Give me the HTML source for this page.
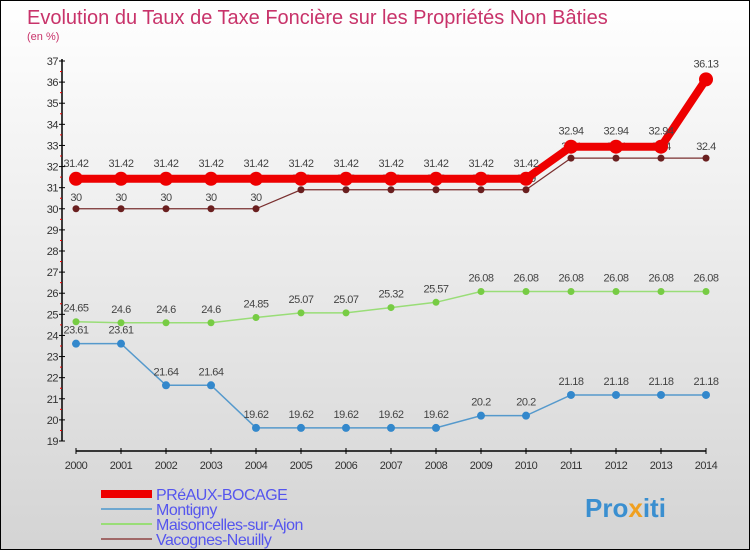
<!DOCTYPE html>
<html><head><meta charset="utf-8"><style>
html,body{margin:0;padding:0}
body{width:750px;height:550px;overflow:hidden;font-family:"Liberation Sans",sans-serif}
#wrap{position:relative;width:748px;height:548px;border:1px solid #000;background:linear-gradient(#ffffff,#d4d4d4)}
</style></head><body>
<div id="wrap">
<svg id="chart" width="748" height="548" xmlns="http://www.w3.org/2000/svg">
<text x="26" y="23" font-size="20" fill="#c8336a">Evolution du Taux de Taxe Foncière sur les Propriétés Non Bâties</text>
<text x="26" y="39" font-size="11" fill="#c8336a">(en %)</text>
<g id="axes"></g><g id="series"></g><g id="legend"></g>
<text x="584" y="516" font-size="26" font-weight="bold" fill="#3a8fd0">Pro<tspan fill="#f0a020">x</tspan>iti</text>
</svg>
</div>
<script>
const years=[2000,2001,2002,2003,2004,2005,2006,2007,2008,2009,2010,2011,2012,2013,2014];
const yTicks=[19,20,21,22,23,24,25,26,27,28,29,30,31,32,33,34,35,36,37];
const preaux=[31.42,31.42,31.42,31.42,31.42,31.42,31.42,31.42,31.42,31.42,31.42,32.94,32.94,32.94,36.13];
const montigny=[23.61,23.61,21.64,21.64,19.62,19.62,19.62,19.62,19.62,20.2,20.2,21.18,21.18,21.18,21.18];
const maison=[24.65,24.6,24.6,24.6,24.85,25.07,25.07,25.32,25.57,26.08,26.08,26.08,26.08,26.08,26.08];
const vacognes=[30,30,30,30,30,30.9,30.9,30.9,30.9,30.9,30.9,32.4,32.4,32.4,32.4];
const names=["PRéAUX-BOCAGE","Montigny","Maisoncelles-sur-Ajon","Vacognes-Neuilly"];
const NS="http://www.w3.org/2000/svg";
const x=i=>75+i*45;
const y=v=>60+(37-v)*(380/18);
function mk(tag,attrs,parent){const e=document.createElementNS(NS,tag);for(const k in attrs)e.setAttribute(k,attrs[k]);parent.appendChild(e);return e;}
const axes=document.getElementById('axes');
let a=mk('line',{x1:61,y1:58,x2:61,y2:440,stroke:'#000','stroke-width':1.5},axes);


a=mk('line',{x1:75,y1:450,x2:705,y2:450,stroke:'#000','stroke-width':1.5},axes);


yTicks.forEach(t=>{
 mk('line',{x1:58,y1:y(t),x2:64,y2:y(t),stroke:'#000'},axes);
 if(t<37) mk('line',{x1:59,y1:y(t+0.5),x2:61,y2:y(t+0.5),stroke:'#e00'},axes);
 const tx=mk('text',{x:57,y:y(t)+4,'font-size':11,'text-anchor':'end',fill:'#333','letter-spacing':'-0.5'},axes);
 tx.textContent=t;
 
 
});
years.forEach((yr,i)=>{
 mk('line',{x1:x(i),y1:447,x2:x(i),y2:453,stroke:'#000'},axes);
 const tx=mk('text',{x:x(i),y:468,'font-size':11,'text-anchor':'middle',fill:'#333','letter-spacing':'-0.5'},axes);
 tx.textContent=yr;
 
 
});
const ser=document.getElementById('series');
function draw(data,color,dot,lw,r,name,labelDy){
 const g=mk('g',{},ser);
 
 
 const pl=mk('polyline',{points:data.map((v,i)=>x(i)+','+y(v)).join(' '),fill:'none',stroke:color,'stroke-width':lw},g);
 
 
 data.forEach((v,i)=>{
  const c=mk('circle',{cx:x(i),cy:y(v),r:r,fill:dot},g);
  
  
  const t=mk('text',{x:x(i),y:y(v)+labelDy,'font-size':11,'text-anchor':'middle',fill:'#444','letter-spacing':'-0.5'},g);
  t.textContent=v;
  
  
 });
}
draw(vacognes,'#7a3030','#6a1f1f',1.2,3.5,'vacognes',-8);
draw(maison,'#99dd77','#77cc44',1.5,3.5,'maisoncelles',-10);
draw(montigny,'#5599cc','#3388cc',1.5,4,'montigny',-10);
draw(preaux,'#ee0000','#ee0000',8,7,'preaux',-12);
const lg=document.getElementById('legend');
const lc=['#ee0000','#6fa8d0','#99dd77','#a06868'];const lw=[8,2,2,2];
names.forEach((n,i)=>{
 const yy=493+i*15;
 const l=mk('line',{x1:100,y1:yy,x2:151,y2:yy,stroke:lc[i],'stroke-width':lw[i]},lg);
 
 
 const t=mk('text',{x:155,y:yy+6,'font-size':16,fill:'#5555ee','letter-spacing':'-0.5'},lg);
 t.textContent=n;
 
 
});
</script>
</body></html>
